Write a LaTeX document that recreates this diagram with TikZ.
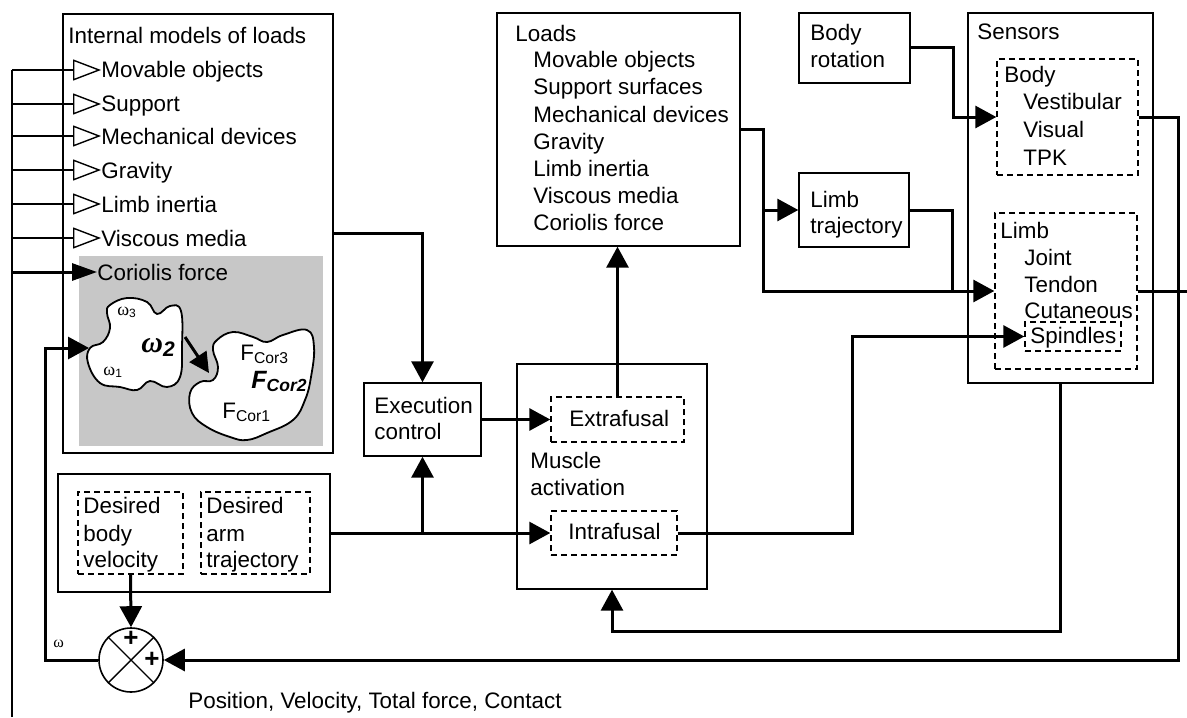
\documentclass[tikz,border=0pt]{standalone}
\usepackage{fontspec}
\setmainfont{Liberation Sans}
\newfontfamily\greekf{Liberation Serif}
\usetikzlibrary{arrows.meta,fit,calc}
\begin{document}
\begin{tikzpicture}[x=0.5pt,y=-0.5pt,
  box/.style={draw, line width=0.7pt, inner sep=0pt},
  dbox/.style={draw, line width=0.7pt, dash pattern=on 3pt off 2pt, inner sep=0pt},
  conn/.style={line width=1.5pt},
  arr/.style={-{Triangle[length=10.5pt,width=11pt]}},
  harr/.style={line width=1.1pt, -{Triangle[open,length=14pt,width=10.5pt,line width=0.7pt]}},
  farr/.style={line width=1.5pt, -{Triangle[length=12.5pt,width=8.5pt]}},
  lbl/.style={anchor=base west, inner sep=0pt, font=\fontsize{11.2}{13}\selectfont},
  item/.style={anchor=west, inner sep=0pt, text height=8pt, text depth=0pt, font=\fontsize{11.2}{13}\selectfont},
  blob/.style={draw, fill=white, line width=0.9pt}
]
\useasboundingbox (0,0) rectangle (1187,717);

% ---------- boxes ----------
\node[box, fit={(63,14) (333,453)}] (im) {};
\fill[black!22] (79,256) rectangle (323,446);
\node[box, fit={(497,13) (740,246)}] (loads) {};
\node[box, fit={(799,13) (910,83)}] (bodyrot) {};
\node[box, fit={(799,173) (909,247)}] (limbtraj) {};
\node[box, fit={(968,13) (1153,383)}] (sensors) {};
\node[dbox, fit={(997,59) (1138,175)}] (bodysens) {};
\node[dbox, fit={(995,213) (1137,369)}] (limbsens) {};
\node[dbox, fit={(1025,322) (1121,351)}] (spindles) {};
\node[box, fit={(364,383) (481,456)}] (exec) {};
\node[box, fit={(517,364) (707,589)}] (muscle) {};
\node[dbox, fit={(551,397) (684,442)}] (extra) {};
\node[dbox, fit={(551,511) (677,555)}] (intra) {};
\node[box, fit={(58,474) (330,592)}] (desired) {};
\node[dbox, fit={(78,492) (183,574)}] (dbv) {};
\node[dbox, fit={(201,492) (310,574)}] (dat) {};
\node[draw, circle, line width=0.8pt, minimum size=32pt, inner sep=0pt] (sum) at (131,660) {};
\draw[line width=0.7pt] (sum.north west) -- (sum.south east);
\draw[line width=0.7pt] (sum.north east) -- (sum.south west);
\node[font=\fontsize{13}{13}\selectfont\bfseries, inner sep=0pt] (plus1) at (131,639) {+};
\node[font=\fontsize{13}{13}\selectfont\bfseries, inner sep=0pt] (plus2) at (152,660) {+};

% ---------- texts ----------
\node[lbl] (imt) at (68,44) {Internal models of loads};
\node[item] (i1) at (101,70) {Movable objects};
\node[item] (i2) at (101,104) {Support};
\node[item] (i3) at (101,136) {Mechanical devices};
\node[item] (i4) at (101,170) {Gravity};
\node[item] (i5) at (101,204) {Limb inertia};
\node[item] (i6) at (101,238) {Viscous media};
\node[item] (i7) at (97,272) {Coriolis force};

\node[lbl] (lt) at (515,42) {Loads};
\node[lbl] (l1) at (533,68) {Movable objects};
\node[lbl] (l2) at (533,95) {Support surfaces};
\node[lbl] (l3) at (533,122) {Mechanical devices};
\node[lbl] (l4) at (533,149) {Gravity};
\node[lbl] (l5) at (533,176) {Limb inertia};
\node[lbl] (l6) at (533,203) {Viscous media};
\node[lbl] (l7) at (533,230) {Coriolis force};

\node[lbl] (br1) at (810,41) {Body};
\node[lbl] (br2) at (810,68) {rotation};
\node[lbl] (lt1) at (810,207) {Limb};
\node[lbl] (lt2) at (810,233) {trajectory};

\node[lbl] (st) at (977,40) {Sensors};
\node[lbl] (sb) at (1004,83) {Body};
\node[lbl] (sb1) at (1023,110) {Vestibular};
\node[lbl] (sb2) at (1023,137) {Visual};
\node[lbl] (sb3) at (1023,165) {TPK};
\node[lbl] (sl) at (1000,238) {Limb};
\node[lbl] (sl1) at (1024,265) {Joint};
\node[lbl] (sl2) at (1024,292) {Tendon};
\node[lbl] (sl3) at (1024,318) {Cutaneous};
\node[lbl] (sl4) at (1030,343) {Spindles};

\node[lbl] (ex1) at (374,413) {Execution};
\node[lbl] (ex2) at (374,439) {control};
\node[lbl] (eft) at (569,426) {Extrafusal};
\node[lbl] (ma1) at (530,468) {Muscle};
\node[lbl] (ma2) at (530,495) {activation};
\node[lbl] (ift) at (568,539) {Intrafusal};

\node[lbl] (d1) at (83,513) {Desired};
\node[lbl] (d2) at (83,541) {body};
\node[lbl] (d3) at (83,567) {velocity};
\node[lbl] (d4) at (206,513) {Desired};
\node[lbl] (d5) at (206,541) {arm};
\node[lbl] (d6) at (206,567) {trajectory};

\node[lbl] (pos) at (188,708) {Position, Velocity, Total force, Contact};
\node[lbl, font=\fontsize{8}{9}\selectfont\greekf] (om) at (53,647) {ω};

% ---------- blobs ----------
\draw[blob] plot[smooth cycle, tension=0.7] coordinates {(110,305) (127,298) (147,302) (157,314) (170,306) (181,311) (182,347) (180,377) (167,387) (150,381) (137,390) (120,387) (100,383) (88,363) (90,348) (103,342) (110,328) (107,313)};
\draw[blob] plot[smooth cycle, tension=0.7] coordinates {(217,340) (233,332) (253,337) (267,342) (283,335) (307,330) (314,347) (311,377) (305,400) (293,420) (267,433) (247,440) (230,437) (207,427) (192,413) (190,393) (200,382) (213,380) (218,367) (213,350)};
\node[lbl, font=\fontsize{9}{10}\selectfont] (w3) at (117,315) {{\greekf ω}\textsubscript{3}};
\node[lbl, font=\fontsize{15}{16}\selectfont\bfseries\itshape] (w2) at (141,352) {{\greekf ω}\textsubscript{2}};
\node[lbl, font=\fontsize{9}{10}\selectfont] (w1) at (103,375) {{\greekf ω}\textsubscript{1}};
\node[lbl] (f3) at (240,360) {F\textsubscript{Cor3}};
\node[lbl, font=\fontsize{12.5}{14}\selectfont\bfseries\itshape] (f2) at (251,388) {F\textsubscript{Cor2}};
\node[lbl] (f1) at (222,418) {F\textsubscript{Cor1}};
\coordinate (ba1) at (185,337);
\coordinate (ba2) at (209,373);
\draw[conn, -{Triangle[length=10pt,width=10pt]}] (ba1) -- (ba2);
\coordinate (b1in) at (89,348);

% ---------- left feedback column ----------
\coordinate (ltop) at (12,70);
\coordinate (lbot) at (12,717);
\draw[line width=1.3pt] (lbot) -- (ltop);
\foreach \n in {i1,i2,i3,i4,i5,i6}{
  \draw[harr] (ltop |- \n.west) -- (\n.west);
}
\draw[farr] (ltop |- i7.west) -- (i7.west);

% ---------- connectors ----------
\draw[conn, arr] (im.east) -| (exec.north);
\draw[conn, arr] (exec.east) -- (extra.west);
\draw[conn, arr] (extra.north) -- (extra.north |- loads.south);
\coordinate (j1) at (exec.south |- desired.east);
\draw[conn, arr] (desired.east) -- (intra.west);
\draw[conn, arr] (j1) -- (exec.south);
\draw[conn, arr] (dbv.south) -- (sum.north);
\coordinate (wcol) at (45,0);
\draw[conn, arr] (sum.west) -| (wcol |- b1in) -- (b1in);

\draw[conn, arr] (bodyrot.east) -- ++(43,0) |- (bodysens.west);
\coordinate (lx) at ([xshift=11.5pt]loads.east);
\draw[conn, arr] (loads.east) -- (lx) |- (limbsens.west);
\draw[conn, arr] (lx |- limbtraj.west) -- (limbtraj.west);
\coordinate (tx) at ([xshift=21.5pt]limbtraj.east);
\draw[conn] (limbtraj.east) -- (tx) -- (tx |- limbsens.west);
\draw[conn, arr] (intra.east) -- ++(175,0) |- (spindles.west);
\draw[conn, arr] (sensors.south) -- ++(0,248) -| (muscle.south);
\coordinate (rx) at ([xshift=20pt]bodysens.east);
\draw[conn, arr] (bodysens.east) -- (rx) -- (rx |- sum.east) -- (sum.east);
\coordinate (redge) at (1187,291);
\draw[conn] (limbsens.east) -- (redge);
\end{tikzpicture}
\end{document}
